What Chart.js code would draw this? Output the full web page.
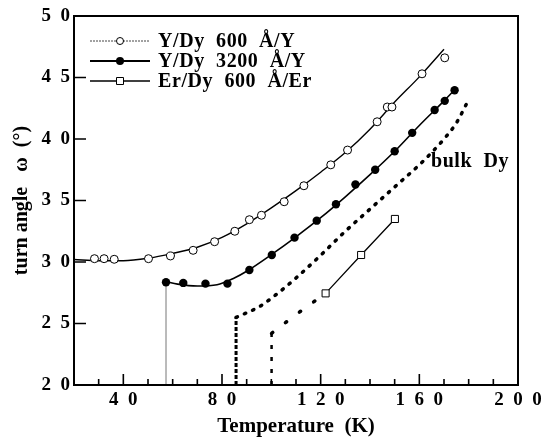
<!DOCTYPE html>
<html>
<head>
<meta charset="utf-8">
<script src="https://cdn.jsdelivr.net/npm/chart.js@4.4.0/dist/chart.umd.min.js"></script>
<style>
body{margin:0;background:#fff;}
#wrap{width:541px;height:442px;}
</style>
</head>
<body>
<div id="wrap"><canvas id="myChart" width="541" height="442"></canvas></div>
<script>
// Y/Dy 600 A/Y : open circles + fitted curve
let tempY600=[28.3,32.2,36.3,50.2,59.1,68.3,77.0,85.2,91.1,96.0,105.2,113.2,124.1,130.9,142.9,147.0,148.9,161.1,170.3];
let angleY600=[30.27,30.27,30.22,30.27,30.49,30.95,31.65,32.5,33.44,33.8,34.9,36.2,37.9,39.1,41.4,42.6,42.6,45.3,46.6];
let fitTempY600=[20,30,40,50,60,70,80,90,100,110,120,130,140,150,160,170];
let fitAngleY600=[30.2,30.1,30.1,30.3,30.7,31.2,32.0,33.1,34.4,35.8,37.3,38.9,40.8,43.0,45.05,47.3];

// Y/Dy 3200 A/Y : filled circles + fitted curve
let tempY3200=[57.3,64.3,73.3,82.2,91.1,100.2,109.4,118.4,126.2,134.1,142.1,150.0,157.1,166.2,170.3,174.3];
let angleY3200=[28.35,28.3,28.24,28.24,29.35,30.57,31.98,33.36,34.7,36.3,37.5,39.0,40.5,42.36,43.1,43.96];
let fitTempY3200=[57.3,62,70,78,85,90,100,110,120,130,140,150,160,170,174.3];
let fitAngleY3200=[28.4,28.2,28.05,28.15,28.7,29.25,30.6,32.05,33.6,35.3,37.1,39.0,41.1,43.1,44.0];
let dropTempY3200=[57.3,57.3];
let dropAngleY3200=[20,28.35];

// Er/Dy 600 A/Er : squares + line
let tempEr=[122.0,136.4,150.1];
let angleEr=[27.45,30.57,33.5];
let lineTempEr=[120.7,122.0,136.4,150.1];
let lineAngleEr=[27.25,27.45,30.57,33.5];

// bulk Dy (dotted)
let bulkVertTemp=[85.7,85.7];
let bulkVertAngle=[20,25.5];
let bulkTemp=[85.7,95,100,110,120,130,140,150,160,165,170,175,179.5];
let bulkAngle=[25.5,26.35,27.05,28.7,30.55,32.5,34.3,36.1,37.9,38.9,40.0,41.3,43.0];

// second dotted curve (unlabelled)
let dot2VertTemp=[100.1,100.1];
let dot2VertAngle=[20,24.2];
let dot2Temp=[100.1,102.4,108.5,114.6,120.7];
let dot2Angle=[24.2,24.55,25.5,26.4,27.25];

// axes
let xMajorTicks=[40,80,120,160];
let xMinorTicks=[30,50,60,70,90,100,110,130,140,150,170,180,190];
let yMajorTicks=[25,30,35,40,45];
let legendLabels=["Y/Dy  600  \u00c5/Y","Y/Dy  3200  \u00c5/Y","Er/Dy  600  \u00c5/Er"];
let bulkLabel="bulk  Dy";

const FONT='"Liberation Serif","Times New Roman",serif';

function pts(xs,ys){
    let out=[];
    for(let i=0;i<xs.length;i++){
        out.push({x:xs[i],y:ys[i]});
    }
    return out;
}
function spaced(v){
    return String(v).split("").join("\u2002");
}

const framePlugin={
    id:"frame",
    afterDraw(chart){
        const ctx=chart.ctx;
        const a=chart.chartArea;
        const xs=chart.scales.x, ys=chart.scales.y;
        ctx.save();
        ctx.strokeStyle="#000";
        ctx.lineWidth=2;
        ctx.strokeRect(a.left,a.top,a.right-a.left,a.bottom-a.top);
        // inward ticks
        ctx.lineWidth=1.6;
        ctx.beginPath();
        xMinorTicks.forEach(function(t){
            let px=xs.getPixelForValue(t);
            ctx.moveTo(px,a.bottom);ctx.lineTo(px,a.bottom-6);
        });
        xMajorTicks.forEach(function(t){
            let px=xs.getPixelForValue(t);
            ctx.moveTo(px,a.bottom);ctx.lineTo(px,a.bottom-11);
        });
        yMajorTicks.forEach(function(t){
            let py=ys.getPixelForValue(t);
            ctx.moveTo(a.left,py);ctx.lineTo(a.left+12,py);
        });
        ctx.stroke();

        // legend
        let lx0=a.left+16, lx1=a.left+76, mx=a.left+46, tx=a.left+84;
        let rows=[a.top+25,a.top+45,a.top+65];
        ctx.font="bold 20px "+FONT;
        ctx.letterSpacing="0.6px";
        ctx.textBaseline="middle";
        ctx.fillStyle="#000";
        for(let i=0;i<3;i++){
            let y=rows[i];
            ctx.beginPath();
            if(i==0){ctx.setLineDash([2,1]);ctx.lineWidth=1;ctx.strokeStyle="#444";}
            else if(i==1){ctx.setLineDash([]);ctx.lineWidth=2;ctx.strokeStyle="#000";}
            else{ctx.setLineDash([]);ctx.lineWidth=1.5;ctx.strokeStyle="#000";}
            ctx.moveTo(lx0,y);ctx.lineTo(lx1,y);ctx.stroke();
            ctx.setLineDash([]);
            ctx.lineWidth=1;ctx.strokeStyle="#000";
            ctx.beginPath();
            if(i==0){
                ctx.arc(mx,y,3.5,0,Math.PI*2);ctx.fillStyle="#fff";ctx.fill();ctx.stroke();
            }else if(i==1){
                ctx.arc(mx,y,4,0,Math.PI*2);ctx.fillStyle="#000";ctx.fill();
            }else{
                ctx.rect(mx-3.5,y-3.5,7,7);ctx.fillStyle="#fff";ctx.fill();ctx.stroke();
            }
            ctx.fillStyle="#000";
            ctx.fillText(legendLabels[i],tx,y+1);
        }
        // bulk Dy label
        ctx.textBaseline="alphabetic";
        ctx.fillText(bulkLabel,xs.getPixelForValue(164.7),ys.getPixelForValue(37.75));
        ctx.restore();
    }
};

const ctx=document.getElementById("myChart").getContext("2d");
const myChart=new Chart(ctx,{
    type:"scatter",
    data:{
        datasets:[
            {data:pts(tempY600,angleY600),pointStyle:"circle",pointRadius:4,pointBackgroundColor:"#fff",pointBorderColor:"#000",pointBorderWidth:1,showLine:false},
            {data:pts(tempY3200,angleY3200),pointStyle:"circle",pointRadius:4.2,pointBackgroundColor:"#000",pointBorderColor:"#000",pointBorderWidth:0,showLine:false},
            {data:pts(tempEr,angleEr),pointStyle:"rect",pointRadius:5,pointBackgroundColor:"#fff",pointBorderColor:"#000",pointBorderWidth:1,showLine:false},
            {data:pts(fitTempY600,fitAngleY600),showLine:true,pointRadius:0,borderColor:"#000",borderWidth:1.4,cubicInterpolationMode:"monotone"},
            {data:pts(fitTempY3200,fitAngleY3200),showLine:true,pointRadius:0,borderColor:"#000",borderWidth:1.6,cubicInterpolationMode:"monotone"},
            {data:pts(dropTempY3200,dropAngleY3200),showLine:true,pointRadius:0,borderColor:"#777",borderWidth:1},
            {data:pts(lineTempEr,lineAngleEr),showLine:true,pointRadius:0,borderColor:"#000",borderWidth:1.3},
            {data:pts(bulkVertTemp,bulkVertAngle),showLine:true,pointRadius:0,borderColor:"#000",borderWidth:3,borderDash:[4,2]},
            {data:pts(bulkTemp,bulkAngle),showLine:true,pointRadius:0,borderColor:"#000",borderWidth:3.5,borderCapStyle:"round",borderDash:[1.5,7.5],cubicInterpolationMode:"monotone"},
            {data:pts(dot2VertTemp,dot2VertAngle),showLine:true,pointRadius:0,borderColor:"#000",borderWidth:2.5,borderDash:[4,8]},
            {data:pts(dot2Temp,dot2Angle),showLine:true,pointRadius:0,borderColor:"#000",borderWidth:3.5,borderCapStyle:"round",borderDash:[1.5,16]}
        ]
    },
    options:{
        responsive:false,
        animation:false,
        devicePixelRatio:1,
        layout:{padding:{left:0,right:23,top:16,bottom:0}},
        plugins:{legend:{display:false},tooltip:{enabled:false}},
        scales:{
            x:{
                type:"linear",min:20,max:200,
                grid:{display:false,drawTicks:false},
                border:{display:false},
                ticks:{stepSize:40,includeBounds:false,padding:4,color:"#000",
                    font:{family:FONT,size:19,weight:"bold"},
                    maxRotation:0,
                    callback:function(v){return spaced(v);}},
                title:{display:true,text:"Temperature\u2002(K)",color:"#000",
                    font:{family:FONT,size:21,weight:"bold"},padding:{top:2,bottom:3}},
                afterFit:function(s){s.height=57;s.paddingLeft=0;s.paddingRight=0;}
            },
            y:{
                type:"linear",min:20,max:50,
                grid:{display:false,drawTicks:false},
                border:{display:false},
                ticks:{stepSize:5,padding:4,color:"#000",
                    font:{family:FONT,size:19,weight:"bold"},
                    callback:function(v){return spaced(v);}},
                title:{display:true,text:"turn angle\u2002 \u03c9\u2002(\u00b0)",color:"#000",
                    font:{family:FONT,size:20,weight:"bold"},padding:{top:10,bottom:0}},
                afterFit:function(s){s.width=74;s.paddingTop=0;s.paddingBottom=0;}
            }
        }
    },
    plugins:[framePlugin]
});
</script>
</body>
</html>
